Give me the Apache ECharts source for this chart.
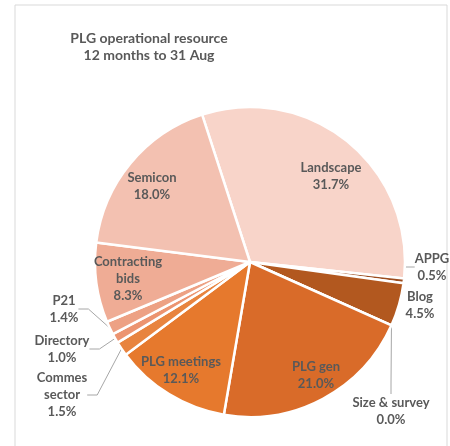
<!DOCTYPE html>
<html>
<head>
<meta charset="utf-8">
<script src="https://cdn.jsdelivr.net/npm/echarts@6/dist/echarts.min.js"></script>
<style>
html,body{margin:0;padding:0;background:#fff;}
#c{width:450px;height:446px;}
</style>
</head>
<body>
<div id="c"></div>
<script>
// Data (clockwise order, starting with Landscape)
const categories = ['Landscape', 'APPG', 'Blog', 'Size & survey', 'PLG gen', 'PLG meetings', 'Commes sector', 'Directory', 'P21', 'Contracting bids', 'Semicon'];
const values = [31.7, 0.5, 4.5, 0.0, 21.0, 12.1, 1.5, 1.0, 1.4, 8.3, 18.0];
const sliceColors = ['#F8D4C9', '#9C4C1E', '#B2581F', '#C86224', '#D96B29', '#E6792D', '#E8843F', '#EC9470', '#EDA184', '#EFAC95', '#F3C1B1'];
const outsideLabels = ['APPG', 'Blog', 'Size & survey', 'Commes sector', 'Directory', 'P21'];
const noLineLabels = ['Blog'];
const wrapNames = { 'Contracting bids': 'Contracting\nbids', 'Commes sector': 'Commes\nsector' };

// label placement (centre of each label block)
const labelPos = {
  'Landscape': [331, 176],
  'Semicon': [152, 186],
  'Contracting bids': [128, 279],
  'PLG meetings': [181, 370],
  'PLG gen': [316, 375],
  'P21': [64, 309],
  'Directory': [62, 349],
  'Commes sector': [62, 395],
  'APPG': [432, 267],
  'Blog': [420, 305],
  'Size & survey': [391, 411]
};

const CX = 250, CY = 262, R = 155, START = 108;

const chart = echarts.init(document.getElementById('c'), null, { renderer: 'canvas' });

const data = categories.map((n, i) => {
  const outside = outsideLabels.indexOf(n) >= 0;
  return {
    name: n,
    value: values[i],
    itemStyle: { color: sliceColors[i] },
    label: { position: outside ? 'outside' : 'inside' },
    labelLine: { show: outside && noLineLabels.indexOf(n) < 0 }
  };
});

chart.setOption({
  animation: false,
  graphic: [{
    type: 'rect',
    shape: { x: 15, y: 5, width: 432, height: 460 },
    style: { fill: 'none', stroke: '#D9D9D9', lineWidth: 1 },
    silent: true
  }],
  title: {
    text: 'PLG operational resource\n12 months to 31 Aug',
    left: 144,
    top: 25,
    textAlign: 'center',
    textStyle: { fontFamily: 'Lato', fontSize: 14, fontWeight: 'bold', color: '#595959', lineHeight: 17 }
  },
  series: [{
    type: 'pie',
    center: [CX, CY],
    radius: [0, R],
    startAngle: START,
    clockwise: true,
    percentPrecision: 1,
    avoidLabelOverlap: false,
    itemStyle: { borderColor: '#FFFFFF', borderWidth: 2.5 },
    label: {
      formatter: p => (wrapNames[p.name] || p.name) + '\n' + p.percent.toFixed(1) + '%',
      fontFamily: 'Lato',
      fontSize: 13,
      fontWeight: 'bold',
      color: '#595959',
      lineHeight: 17,
      align: 'center'
    },
    labelLine: { lineStyle: { color: '#A6A6A6', width: 1 }, length: 10, length2: 10 },
    labelLayout: function (params) {
      const name = categories[params.dataIndex];
      const pos = labelPos[name];
      return { x: pos[0], y: pos[1], align: 'center', verticalAlign: 'middle' };
    },
    data: data
  }]
});
</script>
</body>
</html>
